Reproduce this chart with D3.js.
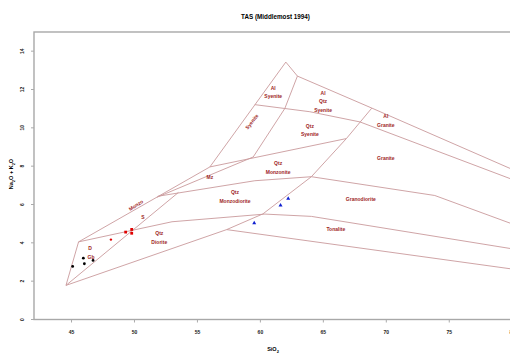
<!DOCTYPE html>
<html>
<head>
<meta charset="utf-8">
<script src="https://cdn.jsdelivr.net/npm/d3@7"></script>
<style>
  body { margin: 0; background: #fff; }
  text { font-family: "Liberation Sans", Arial, sans-serif; }
</style>
</head>
<body>
<svg id="chart" width="510" height="356"></svg>
<script>
// field boundaries of the diagram, as [SiO2, Na2O + K2O]
const outerLine = [[44.60, 1.78], [45.60, 4.05], [56.03, 7.96], [62.06, 13.43], [62.98, 12.70], [68.89, 11.03], [80.4, 7.73]];
const lowerLine = [[44.60, 1.78], [57.36, 4.69], [80.4, 2.60]];
const quartzLine = [[57.36, 4.69], [60.24, 5.51], [64.09, 7.45], [66.87, 9.44], [68.89, 11.03]];
const dioriteLine = [[45.60, 4.05], [53.02, 5.10], [60.40, 5.50], [64.09, 5.38], [80.4, 3.65]];
const monzoniteLine = [[51.90, 6.43], [59.60, 7.24], [64.09, 7.45], [73.89, 6.47], [80.4, 4.90]];
const syeniteLine = [[56.03, 7.96], [66.87, 9.44]];
const alkaliLine = [[59.60, 11.21], [63.97, 10.84], [67.94, 10.31], [80.4, 7.22]];
const satLine = [[62.98, 12.70], [61.98, 11.01], [59.47, 8.48], [51.83, 6.38]];
const gabbroLine = [[44.60, 1.78], [53.53, 6.63]];
const boundaries = [outerLine, lowerLine, quartzLine, dioriteLine, monzoniteLine, syeniteLine, alkaliLine, satLine, gabbroLine];

// field names and where they sit
const fieldNames = ['Al\nSyenite', 'Al\nQtz\nSyenite', 'Al\nGranite', 'Qtz\nSyenite', 'Granite', 'Qtz\nMonzonite',
  'Granodiorite', 'Tonalite', 'Qtz\nMonzodiorite', 'Qtz\nDiorite', 'Mz', 'Syenite', 'Monzo', 'S', 'D', 'Gb'];
const fieldX = [61.06, 65.02, 70.0, 63.97, 70.0, 61.45, 68.02, 66.03, 58.02, 52.01, 56.03, 59.37, 50.16, 50.71, 46.51, 46.59];
const fieldY = [11.87, 11.38, 10.36, 9.87, 8.40, 7.92, 6.29, 4.69, 6.40, 4.26, 7.42, 10.32, 5.96, 5.33, 3.70, 3.23];
const fieldAngle = [0, 0, 0, 0, 0, 0, 0, 0, 0, 0, 0, -52, -33, 0, 0, 0];

// samples
const blackSiO2 = [45.13, 45.98, 46.06, 46.75];
const blackAlk = [2.77, 3.20, 2.91, 3.08];
const redDotSiO2 = [48.17];
const redDotAlk = [4.17];
const redSquareSiO2 = [49.34, 49.82, 49.82];
const redSquareAlk = [4.56, 4.70, 4.50];
const blueSiO2 = [59.55, 61.64, 62.25];
const blueAlk = [5.03, 5.96, 6.31];

const xTicks = [45, 50, 55, 60, 65, 70, 75, 80];
const yTicks = [0, 2, 4, 6, 8, 10, 12, 14];

const svg = d3.select('#chart');
const pLeft = 34, pTop = 32, pRight = 517, pBottom = 319.5;

const x = d3.scaleLinear().domain([42.06, 80.42]).range([pLeft, pRight]);
const y = d3.scaleLinear().domain([0, 15]).range([pBottom, pTop]);

svg.append('defs').append('clipPath').attr('id', 'plotClip')
  .append('rect').attr('x', pLeft).attr('y', pTop).attr('width', pRight - pLeft).attr('height', pBottom - pTop);

// title
svg.append('text').attr('x', (pLeft + pRight) / 2).attr('y', 19)
  .attr('text-anchor', 'middle').style('font-size', '6.3px').style('font-weight', 'bold')
  .text('TAS (Middlemost 1994)');

// frame
svg.append('rect').attr('x', pLeft).attr('y', pTop).attr('width', pRight - pLeft).attr('height', pBottom - pTop)
  .attr('fill', 'none').attr('stroke', '#a8a8a8').attr('stroke-width', 1.4);

// axes
const xAxis = svg.append('g').attr('transform', `translate(0,${pBottom})`)
  .call(d3.axisBottom(x).tickValues(xTicks).tickSize(3).tickPadding(8));
const yAxis = svg.append('g').attr('transform', `translate(${pLeft},0)`)
  .call(d3.axisLeft(y).tickValues(yTicks).tickSize(3).tickPadding(4));
[xAxis, yAxis].forEach(a => {
  a.select('.domain').remove();
  a.selectAll('line').attr('stroke', '#aaa');
  a.selectAll('text').attr('fill', '#222').style('font-size', '5px').style('font-weight', 'bold')
    .style('font-family', '"Liberation Sans", Arial, sans-serif');
});
yAxis.selectAll('.tick').attr('transform', null);
yAxis.selectAll('.tick line').attr('y1', d => y(d)).attr('y2', d => y(d));
yAxis.selectAll('.tick text')
  .attr('transform', d => `rotate(-90,-12,${y(d)})`)
  .attr('x', -12).attr('y', d => y(d)).attr('dy', '0.35em')
  .attr('text-anchor', 'middle');

// axis titles
const xt = svg.append('text').attr('x', 273).attr('y', 351).attr('text-anchor', 'middle')
  .style('font-size', '5.5px').style('font-weight', 'bold');
xt.append('tspan').text('SiO');
xt.append('tspan').attr('dy', 1.5).style('font-size', '4px').text('2');

const yt = svg.append('text').attr('transform', 'translate(13,174) rotate(-90)').attr('text-anchor', 'middle')
  .style('font-size', '5.5px').style('font-weight', 'bold');
yt.append('tspan').text('Na');
yt.append('tspan').attr('dy', 1.5).style('font-size', '4px').text('2');
yt.append('tspan').attr('dy', -1.5).text('O + K');
yt.append('tspan').attr('dy', 1.5).style('font-size', '4px').text('2');
yt.append('tspan').attr('dy', -1.5).text('O');

// field boundaries
const line = d3.line().x(d => x(d[0])).y(d => y(d[1]));
svg.append('g').attr('clip-path', 'url(#plotClip)')
  .selectAll('path').data(boundaries).join('path')
  .attr('d', line).attr('fill', 'none').attr('stroke', '#c99a9c').attr('stroke-width', 0.9);

// field names
const lineGap = 8.4;
const names = svg.append('g').selectAll('text').data(fieldNames).join('text')
  .attr('transform', (d, i) => `translate(${x(fieldX[i])},${y(fieldY[i])}) rotate(${fieldAngle[i]})`)
  .attr('text-anchor', 'middle').attr('fill', '#9e2626')
  .style('font-size', '5px').style('font-weight', 'bold');
names.each(function (d) {
  const rows = d.split('\n');
  const t = d3.select(this);
  rows.forEach((r, k) => {
    t.append('tspan').attr('x', 0)
      .attr('y', (k - (rows.length - 1) / 2) * lineGap)
      .attr('dy', '0.35em').text(r);
  });
});

// samples
const pts = svg.append('g');
pts.selectAll('.blk').data(blackSiO2).join('circle').attr('class', 'blk')
  .attr('cx', d => x(d)).attr('cy', (d, i) => y(blackAlk[i])).attr('r', 1.4).attr('fill', '#000');
pts.selectAll('.rdot').data(redDotSiO2).join('circle').attr('class', 'rdot')
  .attr('cx', d => x(d)).attr('cy', (d, i) => y(redDotAlk[i])).attr('r', 1.2).attr('fill', '#e00000');
pts.selectAll('.rsq').data(redSquareSiO2).join('rect').attr('class', 'rsq')
  .attr('x', d => x(d) - 1.4).attr('y', (d, i) => y(redSquareAlk[i]) - 1.4)
  .attr('width', 2.8).attr('height', 2.8).attr('fill', '#e00000');
const tri = d3.symbol().type(d3.symbolTriangle).size(7);
pts.selectAll('.blu').data(blueSiO2).join('path').attr('class', 'blu')
  .attr('d', tri).attr('transform', (d, i) => `translate(${x(d)},${y(blueAlk[i])})`).attr('fill', '#1020d0');
</script>
</body>
</html>
